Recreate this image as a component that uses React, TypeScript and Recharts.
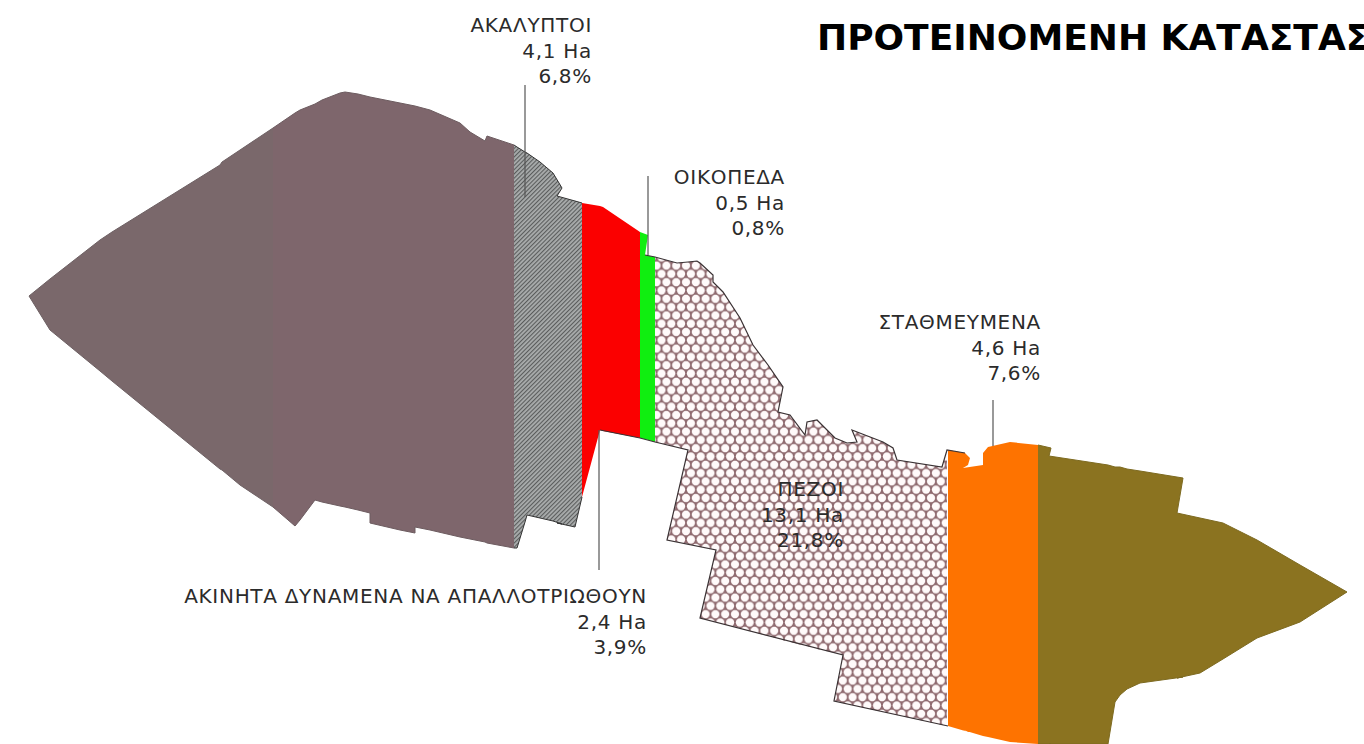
import React from "react";
import { ComposedChart, Area, Line, XAxis, YAxis, ReferenceDot } from "recharts";

// Region outlines: x position, upper edge, lower edge
const brownLeftX = [29, 50, 100, 112, 220, 222, 240, 273];
const brownLeftTop = [296, 279, 240, 232, 165, 162, 150, 128];
const brownLeftBottom = [296, 330, 371, 381, 469, 470, 485, 507];

const brownRightX = [273, 295, 300, 315, 322, 340, 345, 358, 370, 370, 400, 415, 415, 430, 460, 470, 485, 487, 514];
const brownRightTop = [128, 113, 110, 104, 100, 93, 92, 94, 97, 97, 103, 106, 106, 110, 123, 132, 141, 136, 145];
const brownRightBottom = [507, 526, 520, 500, 502, 506, 507, 510, 513, 523, 530, 533, 527, 530, 537, 539, 542, 543, 548];

const greyX = [514, 517, 525, 527, 540, 553, 562, 557, 575, 582];
const greyTop = [145, 147, 152, 153, 162, 173, 188, 196, 201, 203];
const greyBottom = [548, 548, 522, 515, 518, 521, 524, 523, 527, 497];

const redX = [582, 600, 603, 640];
const redTop = [203, 206, 207, 232];
const redBottom = [497, 430, 431, 438];

const greenX = [640, 648, 645, 655];
const greenTop = [232, 235, 255, 257];
const greenBottom = [438, 440, 439, 442];

const hexX = [655, 677, 688, 688, 697, 700, 713, 713, 716, 716, 723, 740, 753, 768, 783, 778, 790, 805, 807, 817, 835, 843, 843, 847, 857, 852, 883, 893, 897, 942, 947];
const hexTop = [257, 263, 262, 262, 261, 263, 275, 282, 285, 285, 292, 318, 345, 365, 387, 412, 415, 435, 422, 420, 438, 441, 441, 443, 442, 430, 442, 448, 460, 467, 450];
const hexBottom = [442, 447, 450, 544, 546, 547, 549, 549, 550, 622, 624, 628, 632, 636, 640, 639, 642, 646, 646, 649, 653, 655, 703, 704, 706, 705, 712, 714, 715, 725, 726];
const hexNotchAX = [667, 688];
const hexNotchATop = [540, 450];
const hexNotchABottom = [540, 544];
const hexNotchBX = [700, 716];
const hexNotchBTop = [618, 550];
const hexNotchBBottom = [618, 622];
const hexNotchCX = [834, 843];
const hexNotchCTop = [701, 655];
const hexNotchCBottom = [701, 703];

const orangeX = [948, 965, 970, 968, 963, 983, 983, 988, 1010, 1038];
const orangeTop = [450, 453, 458, 465, 468, 465, 453, 447, 442, 445];
const orangeBottom = [726, 731, 732, 732, 730, 736, 736, 737, 742, 744];

const oliveX = [1038, 1051, 1049, 1108, 1115, 1120, 1127, 1140, 1183, 1177, 1200, 1223, 1257, 1300, 1347];
const oliveTop = [445, 448, 456, 465, 467, 467, 469, 471, 478, 513, 518, 523, 540, 565, 592];
const oliveBottom = [744, 744, 744, 744, 702, 695, 689, 683, 677, 678, 673, 659, 638, 622, 592];

// Outline of the hatched walkers' region
const hexEdgeTopX = [645, 655, 677, 688, 697, 700, 713, 713, 723, 740, 753, 768, 783, 778, 790, 805, 807, 817, 835, 847, 857, 852, 883, 893, 897, 942, 947, 965];
const hexEdgeTopY = [255, 257, 263, 262, 261, 263, 275, 282, 292, 318, 345, 365, 387, 412, 415, 435, 422, 420, 438, 443, 442, 430, 442, 448, 460, 467, 450, 453];
const hexEdgeBottomX = [600, 640, 655, 688, 667, 716, 700, 843, 834, 948];
const hexEdgeBottomY = [430, 438, 442, 450, 540, 550, 618, 655, 701, 726];

// Leader lines
const leaders = [
  { x: [525, 525], y: [85, 197] },
  { x: [648, 648], y: [176, 255] },
  { x: [599, 599], y: [430, 570] },
  { x: [993, 993], y: [400, 446] },
];

// Labels
const labelNames = ["ΑΚΑΛΥΠΤΟΙ", "ΟΙΚΟΠΕΔΑ", "ΣΤΑΘΜΕΥΜΕΝΑ", "ΑΚΙΝΗΤΑ ΔΥΝΑΜΕΝΑ ΝΑ ΑΠΑΛΛΟΤΡΙΩΘΟΥΝ", "ΠΕΖΟΙ"];
const labelAreas = ["4,1 Ha", "0,5 Ha", "4,6 Ha", "2,4 Ha", "13,1 Ha"];
const labelShares = ["6,8%", "0,8%", "7,6%", "3,9%", "21,8%"];
const labelRight = [592, 785, 1041, 647, 844];
const labelBaseline = [32, 184, 329, 603, 496];
const titleText = "ΠΡΟΤΕΙΝΟΜΕΝΗ ΚΑΤΑΣΤΑΣΗ";

const rows = (x: number[], top: number[], bottom: number[]) =>
  x.map((v, i) => ({ x: v, range: [bottom[i], top[i]] }));
const points = (x: number[], y: number[]) => x.map((v, i) => ({ x: v, y: y[i] }));

const regions = [
  { d: rows(brownLeftX, brownLeftTop, brownLeftBottom), fill: "#7a686b", stroke: "#6d6063" },
  { d: rows(brownRightX, brownRightTop, brownRightBottom), fill: "#7e666c", stroke: "#6d5c60" },
  { d: rows(greyX, greyTop, greyBottom), fill: "url(#hatch)", stroke: "#333333" },
  { d: rows(redX, redTop, redBottom), fill: "#fb0000", stroke: "none" },
  { d: rows(greenX, greenTop, greenBottom), fill: "#10ee10", stroke: "none" },
  { d: rows(hexX, hexTop, hexBottom), fill: "url(#hex)", stroke: "none" },
  { d: rows(hexNotchAX, hexNotchATop, hexNotchABottom), fill: "url(#hex)", stroke: "none" },
  { d: rows(hexNotchBX, hexNotchBTop, hexNotchBBottom), fill: "url(#hex)", stroke: "none" },
  { d: rows(hexNotchCX, hexNotchCTop, hexNotchCBottom), fill: "url(#hex)", stroke: "none" },
  { d: rows(orangeX, orangeTop, orangeBottom), fill: "#fe7300", stroke: "none" },
  { d: rows(oliveX, oliveTop, oliveBottom), fill: "#8b7320", stroke: "#7d6a20" },
];

const FONT = "'DejaVu Sans', Verdana, sans-serif";
const LABEL_STEP = 25.5;

const labelShape = (lines: string[]) => (p: any) => (
  <text textAnchor="end" fontFamily={FONT} fontSize={20} letterSpacing={0.7} fill="#2b2b2b">
    {lines.map((l, i) => (
      <tspan key={i} x={p.cx} y={p.cy + i * LABEL_STEP}>{l}</tspan>
    ))}
  </text>
);
const titleShape = (p: any) => (
  <text x={p.cx} y={p.cy} fontFamily={FONT} fontSize={36} fontWeight={700} fill="#000000">
    {titleText}
  </text>
);

export default function App() {
  return (
    <div style={{ position: "absolute", left: 0, top: 0, width: 1364, height: 744, background: "#fff", overflow: "hidden" }}>
      <ComposedChart width={1364} height={744} margin={{ top: 0, right: 0, bottom: 0, left: 0 }} data={hexEdgeBottomX.map((x) => ({ x }))}>
        <defs>
          <pattern id="hatch" width={3} height={3} patternUnits="userSpaceOnUse" patternTransform="rotate(45)">
            <rect width={3} height={3} fill="#a9acac" />
            <rect width={1.1} height={3} fill="#5a5c5c" />
          </pattern>
          <pattern id="hex" width={9.8} height={16.6} patternUnits="userSpaceOnUse">
            <rect width={9.8} height={16.6} fill="#8f6a6f" />
            <circle cx={0} cy={0} r={4.1} fill="#fffafa" />
            <circle cx={9.8} cy={0} r={4.1} fill="#fffafa" />
            <circle cx={0} cy={16.6} r={4.1} fill="#fffafa" />
            <circle cx={9.8} cy={16.6} r={4.1} fill="#fffafa" />
            <circle cx={4.9} cy={8.3} r={4.1} fill="#fffafa" />
          </pattern>
        </defs>
        <XAxis dataKey="x" type="number" domain={[0, 1364]} hide allowDataOverflow />
        <YAxis type="number" domain={[0, 744]} reversed hide allowDataOverflow />
        {regions.map((r, i) => (
          <Area key={i} data={r.d} dataKey="range" type="linear" fill={r.fill} fillOpacity={1} stroke={r.stroke} strokeWidth={1} isAnimationActive={false} dot={false} activeDot={false} />
        ))}
        <Line data={points(hexEdgeTopX, hexEdgeTopY)} dataKey="y" type="linear" stroke="#3a3234" strokeWidth={1.2} dot={false} activeDot={false} isAnimationActive={false} />
        <Line data={points(hexEdgeBottomX, hexEdgeBottomY)} dataKey="y" type="linear" stroke="#3a3234" strokeWidth={1.2} dot={false} activeDot={false} isAnimationActive={false} />
        {leaders.map((l, i) => (
          <Line key={i} data={points(l.x, l.y)} dataKey="y" type="linear" stroke="#555555" strokeWidth={1.2} dot={false} activeDot={false} isAnimationActive={false} />
        ))}
        {labelNames.map((n, i) => (
          <ReferenceDot key={n} x={labelRight[i]} y={labelBaseline[i]} r={0} ifOverflow="visible" shape={labelShape([n, labelAreas[i], labelShares[i]])} />
        ))}
        <ReferenceDot x={817} y={50} r={0} ifOverflow="visible" shape={titleShape} />
      </ComposedChart>
    </div>
  );
}
